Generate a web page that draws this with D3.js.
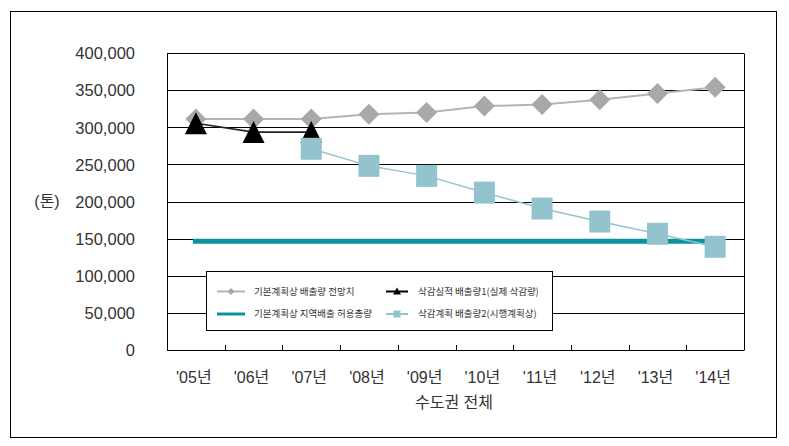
<!DOCTYPE html>
<html>
<head>
<meta charset="utf-8">
<script src="https://cdn.jsdelivr.net/npm/d3@7"></script>
<style>
  html, body { margin: 0; padding: 0; background: #ffffff; }
  svg { display: block; }
</style>
</head>
<body>
<svg id="chart" width="789" height="446"></svg>
<script>
// ---- data ----
const years = ["'05년", "'06년", "'07년", "'08년", "'09년", "'10년", "'11년", "'12년", "'13년", "'14년"];
const baselineForecast = [311000, 311000, 311000, 317500, 320000, 328500, 330500, 337000, 345500, 354000];
const actualEmission = [305500, 293500, 293500, null, null, null, null, null, null, null];
const allowanceTotal = [146500, 146500, 146500, 146500, 146500, 146500, 146500, 146500, 146500, 146500];
const plannedEmission = [null, null, 271000, 248000, 234500, 212000, 190500, 173000, 156500, 139000];
const yTicks = [0, 50000, 100000, 150000, 200000, 250000, 300000, 350000, 400000];
const legendLabels = ["기본계획상 배출량 전망치", "삭감실적 배출량1(실제 삭감량)", "기본계획상 지역배출 허용총량", "삭감계획 배출량2(시행계획상)"];
const yUnit = "(톤)";
const xTitle = "수도권 전체";

// ---- layout ----
const svg = d3.select("#chart");
const latin = "'Liberation Sans', Arial, 'Noto Sans CJK KR', sans-serif";
const cjk = "'Noto Sans CJK KR', sans-serif";
const plot = { left: 167, right: 744, top: 53, bottom: 350 };

const x = d3.scaleBand().domain(years).range([plot.left, plot.right]).padding(0);
const cx = d => x(d) + x.bandwidth() / 2;
const y = d3.scaleLinear().domain([0, 400000]).range([plot.bottom, plot.top]);

// outer frame
svg.append("rect").attr("x", 10.5).attr("y", 11.5).attr("width", 766).attr("height", 426)
  .attr("fill", "#ffffff").attr("stroke", "#000").attr("stroke-width", 1);

// gridlines
const gy = svg.append("g").attr("class", "grid");
gy.selectAll("line").data(yTicks).join("line")
  .attr("x1", plot.left).attr("x2", plot.right)
  .attr("y1", d => Math.round(y(d)) + 0.5).attr("y2", d => Math.round(y(d)) + 0.5)
  .attr("stroke", "#000").attr("stroke-width", 1);

// plot frame verticals
svg.append("line").attr("x1", plot.left + 0.5).attr("x2", plot.left + 0.5)
  .attr("y1", Math.round(y(400000)) + 0.5).attr("y2", Math.round(y(0)) + 0.5).attr("stroke", "#000");
svg.append("line").attr("x1", plot.right + 0.5).attr("x2", plot.right + 0.5)
  .attr("y1", Math.round(y(400000)) + 0.5).attr("y2", Math.round(y(0)) + 0.5).attr("stroke", "#000");

// y axis labels
const yAxis = d3.axisLeft(y).tickValues(yTicks).tickSize(0).tickPadding(0)
  .tickFormat(d3.format(","));
const yg = svg.append("g").attr("transform", "translate(135,0)").call(yAxis);
yg.select(".domain").remove();
yg.selectAll("text").attr("font-family", latin).attr("font-size", 16.5).attr("fill", "#333").attr("dy", "0.35em");

svg.append("text").attr("x", 47).attr("y", y(200000)).attr("dy", "0.35em")
  .attr("text-anchor", "middle").attr("font-family", latin).attr("font-size", 16)
  .attr("fill", "#333").text(yUnit);

// x axis: inward ticks at band boundaries, labels at centers
const xg = svg.append("g");
xg.selectAll("line").data(years.slice(1)).join("line")
  .attr("x1", d => Math.round(x(d)) + 0.5).attr("x2", d => Math.round(x(d)) + 0.5)
  .attr("y1", Math.round(y(0)) + 0.5).attr("y2", Math.round(y(0)) - 5)
  .attr("stroke", "#000");
const xAxis = d3.axisBottom(x).tickSize(0).tickPadding(0);
const xa = svg.append("g").attr("transform", `translate(0,${plot.bottom})`).call(xAxis);
xa.select(".domain").remove();
xa.selectAll("text").attr("font-family", latin).attr("font-size", 16).attr("fill", "#333")
  .attr("dy", 0).attr("y", 33).attr("dx", -2);

svg.append("text").attr("x", 454).attr("y", 408).attr("text-anchor", "middle")
  .attr("font-family", latin).attr("font-size", 16).attr("fill", "#333").text(xTitle);

// ---- series ----
const line = d3.line().defined(d => d.v != null).x(d => cx(d.k)).y(d => y(d.v));
const pts = arr => years.map((k, i) => ({ k, v: arr[i] }));

// baseline forecast (gray diamonds)
svg.append("path").datum(pts(baselineForecast)).attr("d", line)
  .attr("fill", "none").attr("stroke", "#b4b4b4").attr("stroke-width", 2);
const diamond = r => `M0,${-r}L${r},0L0,${r}L${-r},0Z`;
svg.append("g").selectAll("path").data(pts(baselineForecast)).join("path")
  .attr("transform", d => `translate(${cx(d.k)},${y(d.v)})`)
  .attr("d", diamond(10.5)).attr("fill", "#a8a8a8");

// allowance total (teal thick line)
const allowPts = pts(allowanceTotal);
svg.append("line")
  .attr("x1", cx(years[0]) - 3).attr("x2", cx(years[years.length - 1]))
  .attr("y1", y(allowPts[0].v)).attr("y2", y(allowPts[allowPts.length - 1].v))
  .attr("stroke", "#0c929e").attr("stroke-width", 5);

// actual emission (black triangles)
svg.append("path").datum(pts(actualEmission).filter(d => d.v != null)).attr("d", line)
  .attr("fill", "none").attr("stroke", "#222").attr("stroke-width", 1.6);
const tri = (w, h) => `M0,${-h / 2}L${w / 2},${h / 2}L${-w / 2},${h / 2}Z`;
svg.append("g").selectAll("path").data(pts(actualEmission).filter(d => d.v != null)).join("path")
  .attr("transform", d => `translate(${cx(d.k)},${y(d.v)})`)
  .attr("d", tri(22, 22)).attr("fill", "#000");

// planned emission (light blue squares)
const planPts = pts(plannedEmission).filter(d => d.v != null);
svg.append("path").datum(planPts).attr("d", line)
  .attr("fill", "none").attr("stroke", "#93c4ce").attr("stroke-width", 1.5);
svg.append("g").selectAll("rect").data(planPts).join("rect")
  .attr("x", d => cx(d.k) - 10.5).attr("y", d => y(d.v) - 11)
  .attr("width", 21).attr("height", 22).attr("fill", "#93c4ce");

// ---- legend ----
const lg = svg.append("g");
lg.append("rect").attr("x", 206.5).attr("y", 271.5).attr("width", 346).attr("height", 59)
  .attr("fill", "#fff").attr("stroke", "#000").attr("stroke-width", 1);
const rows = [291.5, 314];
const cols = [{ l1: 217, l2: 245, tx: 254 }, { l1: 386, l2: 408, tx: 418 }];
const items = [
  { c: cols[0], r: rows[0], color: "#b4b4b4", w: 2, mark: "diamond", mc: "#a8a8a8" },
  { c: cols[1], r: rows[0], color: "#000", w: 2, mark: "tri", mc: "#000" },
  { c: cols[0], r: rows[1], color: "#0c929e", w: 3, mark: null },
  { c: cols[1], r: rows[1], color: "#93c4ce", w: 2, mark: "square", mc: "#93c4ce" }
];
items.forEach((it, i) => {
  lg.append("line").attr("x1", it.c.l1).attr("x2", it.c.l2).attr("y1", it.r).attr("y2", it.r)
    .attr("stroke", it.color).attr("stroke-width", it.w);
  const mx = (it.c.l1 + it.c.l2) / 2;
  if (it.mark === "diamond") lg.append("path").attr("transform", `translate(${mx},${it.r})`).attr("d", diamond(3.5)).attr("fill", it.mc);
  if (it.mark === "tri") lg.append("path").attr("transform", `translate(${mx},${it.r - 0.5})`).attr("d", tri(8, 7)).attr("fill", it.mc);
  if (it.mark === "square") lg.append("rect").attr("x", mx - 3.5).attr("y", it.r - 3.5).attr("width", 7).attr("height", 7).attr("fill", it.mc);
  lg.append("text").attr("x", it.c.tx).attr("y", it.r).attr("dy", "0.35em")
    .attr("font-family", cjk).attr("font-size", 9.5).attr("fill", "#333").text(legendLabels[i]);
});
</script>
</body>
</html>
